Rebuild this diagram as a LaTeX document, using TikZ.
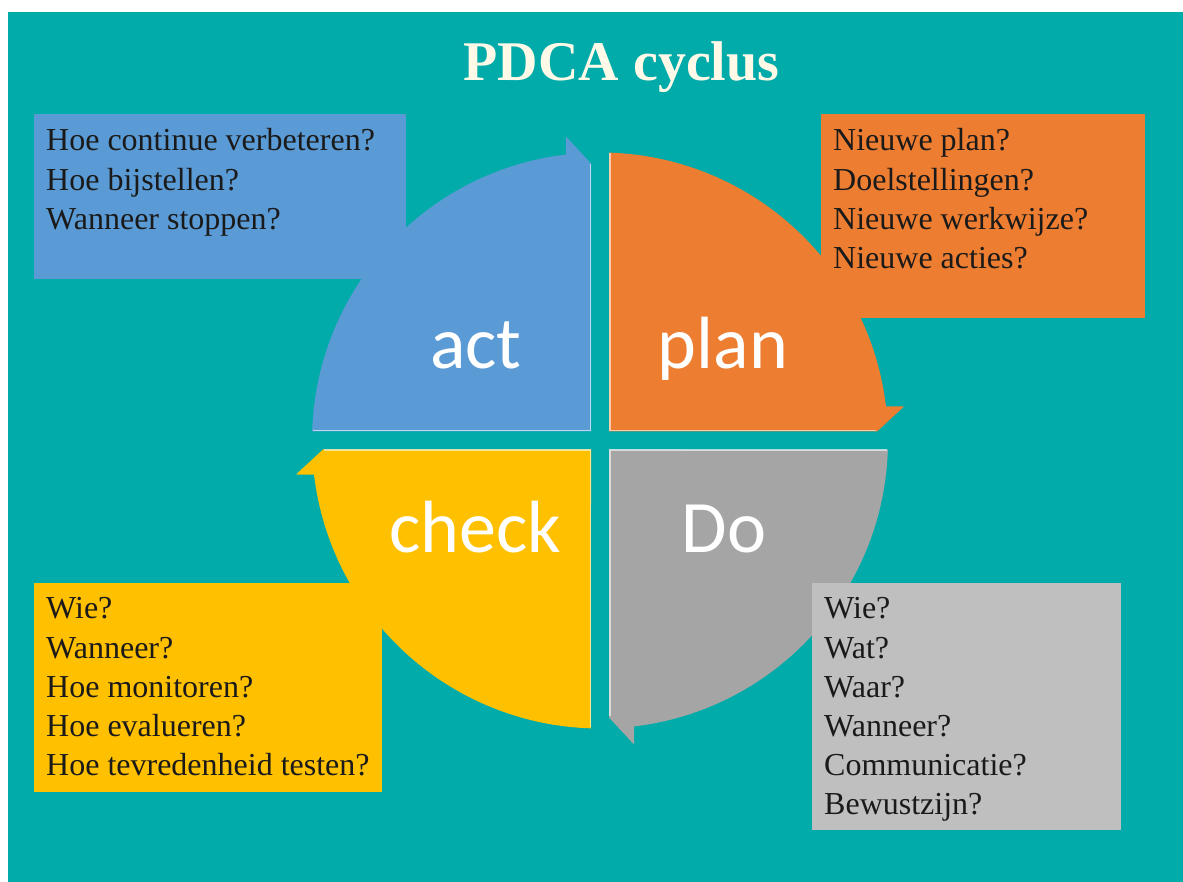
\documentclass[tikz,border=0pt]{standalone}
\usepackage{fontspec}
\setmainfont{Liberation Serif}
\newfontfamily\labelfont{Carlito}
\definecolor{tealbg}{RGB}{0,171,169}
\definecolor{actblue}{RGB}{91,155,213}
\definecolor{planorange}{RGB}{237,125,49}
\definecolor{checkyellow}{RGB}{255,192,0}
\definecolor{dogrey}{RGB}{165,165,165}
\definecolor{boxgrey}{RGB}{191,191,191}
\definecolor{titlecream}{RGB}{255,249,232}
\definecolor{textdark}{RGB}{26,26,26}
\tikzset{
  quadlabel/.style={anchor=base, text=white, inner sep=0pt,
    font=\labelfont\fontsize{74}{80}\selectfont},
  boxline/.style={anchor=base west, text=textdark, inner sep=0pt,
    font=\fontsize{32}{39}\selectfont}
}
\begin{document}
\begin{tikzpicture}[x=1pt, y=1pt]
    \useasboundingbox (0,0) rectangle (1183,882);
    \fill[tealbg] (8,0) rectangle (1183,870);
    \node[anchor=base, text=titlecream, inner sep=0pt,
      font=\bfseries\fontsize{56}{60}\selectfont] (title) at (621.5,801) {PDCA cyclus};
    % the four quarters of the cycle
    \foreach \ang/\col in {0/actblue, -90/planorange, -180/dogrey, -270/checkyellow}{
        \fill[\col, shift={(600,441.5)}, rotate=\ang] (-9,9) -- (178.2:288)
        arc[start angle=178.2, end angle=96.8, radius=288]
        -- (-34,304) -- (-9,277) -- cycle;
        \draw[white, opacity=0.6, line width=1.5pt, shift={(600,441.5)}, rotate=\ang]
        (-9.75,276) -- (-9.75,9.75) -- (-287,9.75);
    }
    \node[quadlabel] (act) at (476,513) {act};
    \node[quadlabel] (plan) at (723,513) {plan};
    \node[quadlabel] (check) at (475,329) {check};
    \node[quadlabel] (do) at (724,329) {Do};
    % question boxes
    \fill[actblue] (34,768) rectangle (406,603);
    \fill[planorange] (821,768) rectangle (1145,564);
    \fill[checkyellow] (34,299) rectangle (382,90);
    \fill[boxgrey] (812,299) rectangle (1121,52);
    \foreach \t [count=\i] in {Hoe continue verbeteren?, Hoe bijstellen?, Wanneer stoppen?}
        \node[boxline] (actq-\i) at (46,731-39.2*\i+39.2) {\t};
    \foreach \t [count=\i] in {Nieuwe plan?, Doelstellingen?, Nieuwe werkwijze?, Nieuwe acties?}
        \node[boxline] (planq-\i) at (833,731-39.2*\i+39.2) {\t};
    \foreach \t [count=\i] in {Wie?, Wanneer?, Hoe monitoren?, Hoe evalueren?, Hoe tevredenheid testen?}
        \node[boxline] (checkq-\i) at (46,263-39.2*\i+39.2) {\t};
    \foreach \t [count=\i] in {Wie?, Wat?, Waar?, Wanneer?, Communicatie?, Bewustzijn?}
        \node[boxline] (doq-\i) at (824,263-39.2*\i+39.2) {\t};
\end{tikzpicture}
\end{document}
